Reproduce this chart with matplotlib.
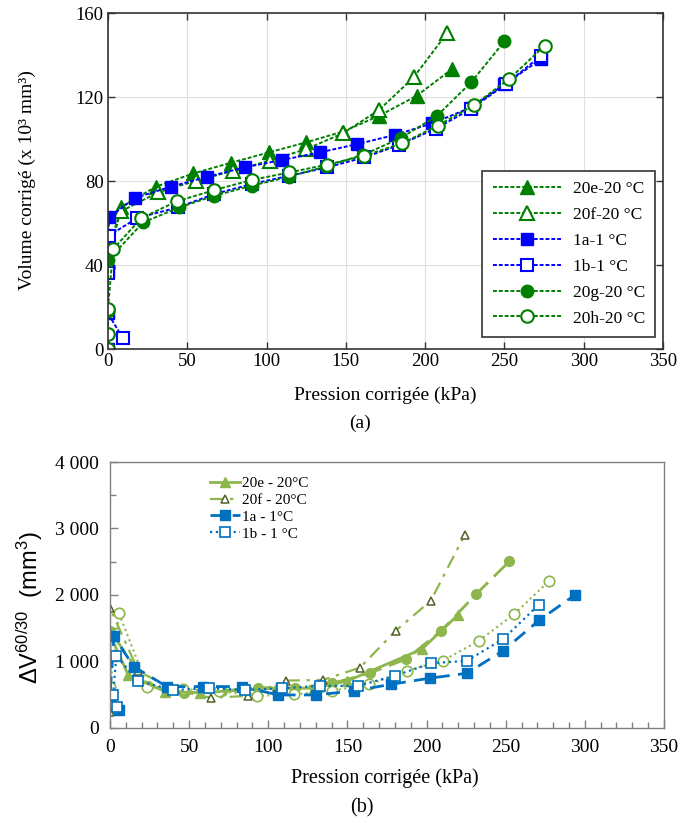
import numpy as np
import matplotlib
matplotlib.use('Agg')
import matplotlib.pyplot as plt
from matplotlib.ticker import MultipleLocator, FuncFormatter

plt.rcParams['font.family'] = ['Liberation Serif', 'DejaVu Serif']
plt.rcParams['mathtext.fontset'] = 'custom'
plt.rcParams['mathtext.rm'] = 'Liberation Sans'
plt.rcParams['mathtext.it'] = 'Liberation Sans:italic'

# ---- (a) corrected volume (x 10^3 mm3) vs corrected pressure (kPa)
a_labels = ['20e-20 °C', '20f-20 °C', '1a-1 °C', '1b-1 °C', '20g-20 °C', '20h-20 °C']
a_20e_x = [0, 0, 8.5, 30.2, 53.8, 77.5, 101.3, 124.9, 148, 170.9, 194.7, 216.9]
a_20e_y = [0, 42, 67.8, 77.3, 83.6, 88.7, 93.6, 98.4, 103.5, 111, 120.6, 133.3]
a_20f_x = [0, 0, 8, 31.6, 55.3, 79.1, 101.9, 124.9, 148.1, 170.9, 192.7, 213.7]
a_20f_y = [0, 48, 65.5, 74.6, 80.1, 84.9, 89.7, 95.2, 102.7, 113.8, 129.3, 150.3]
a_1a_x = [0, 0, 0, 0.6, 16.9, 39.5, 62.7, 86.1, 109.7, 133.4, 157.2, 180.8, 204.2, 229, 250, 273.2]
a_1a_y = [0, 17, 37, 62.7, 71.9, 77.3, 82, 86.5, 90, 93.6, 97.6, 101.9, 107.4, 115, 126, 138.1]
a_1b_x = [9.2, 0, 0, 0.6, 18.4, 43.9, 67.1, 90.7, 114.4, 138.2, 161.4, 183.5, 206.8, 229, 251, 273]
a_1b_y = [5.3, 17, 36, 54, 62.4, 67.4, 73.8, 78.6, 82.5, 86.5, 91.2, 97.1, 105, 114.3, 126.2, 139.6]
a_20g_x = [0, 0, 0, 0, 22.2, 44.7, 67.1, 90.8, 113.9, 137.6, 161, 184.6, 207.4, 229, 250]
a_20g_y = [0, 7, 18, 42.4, 60.3, 67.4, 73, 77.8, 82, 87, 92.5, 100.5, 111, 127, 146.5]
a_20h_x = [0, 0, 0, 3.2, 21.1, 43.3, 67.1, 90.8, 114.4, 138.2, 161.4, 185.3, 207.8, 231, 253, 275.3]
a_20h_y = [0, 7, 19.3, 47.6, 62.4, 70.3, 75.7, 80.5, 84.1, 87.8, 92, 97.9, 106.3, 116.3, 128.6, 144.4]

# ---- (b) Delta V 60/30 (mm3) vs corrected pressure (kPa)
b_labels = ['20e - 20°C', '20f - 20°C', '1a - 1°C', '1b - 1 °C']
b_20e_x = [0, 0, 11.5, 35, 57, 105, 129, 150, 197, 220]
b_20e_y = [500, 1400, 793, 541, 526, 592, 592, 702, 1180, 1699]
b_20f_x = [0, 0, 18, 41, 63.6, 87, 111, 134.5, 158, 180.5, 202.7, 224.2]
b_20f_y = [230, 1800, 850, 560, 450, 476, 707, 717, 903, 1458, 1911, 2908]
b_1a_x = [5.5, 0, 2.5, 15, 35.9, 59, 83.2, 106.3, 130, 154, 177.8, 202, 225.5, 248.3, 271, 294]
b_1a_y = [264, 480, 1372, 918, 617, 617, 617, 491, 491, 551, 652, 743, 818, 1156, 1614, 2002]
b_1b_x = [4.6, 2, 4, 17.8, 39.7, 62.3, 85.3, 108.8, 132.6, 156.4, 179.9, 203, 225.5, 248.3, 270.9]
b_1b_y = [315, 491, 1080, 702, 566, 592, 566, 592, 627, 627, 778, 969, 1005, 1332, 1850]
b_20g_x = [0, 0, 24.3, 46.8, 70.6, 93.7, 117, 140.4, 164.1, 187.3, 209.3, 231.4, 252.4]
b_20g_y = [300, 1458, 627, 516, 551, 602, 590, 667, 818, 1035, 1458, 2012, 2505]
b_20h_x = [0, 0, 5.7, 23.7, 46, 69.1, 92.7, 116.4, 140, 163.7, 187.9, 210.4, 233, 255.5, 277.6]
b_20h_y = [400, 616, 1720, 616, 577, 551, 476, 501, 551, 652, 858, 1009, 1307, 1710, 2213]

GREEN = '#008000'
BLUE = '#0000FF'
LGREEN = '#8DB64C'
DBLUE = '#0070C0'
OLIVE = '#4F6228'

fig = plt.figure(figsize=(6.96, 8.23), dpi=100)

# ================= panel (a)
ax = fig.add_axes([0.1552, 0.5759, 0.7974, 0.4083])
dots = (0, (2, 1))
ax.plot(a_20e_x, a_20e_y, linestyle=dots, color=GREEN, lw=1.4, marker='^', ms=10,
        mfc=GREEN, mec=GREEN, label=a_labels[0])
ax.plot(a_20f_x, a_20f_y, linestyle=dots, color=GREEN, lw=1.4, marker='^', ms=10,
        mfc='white', mec=GREEN, mew=1.5, label=a_labels[1])
ax.plot(a_1a_x, a_1a_y, linestyle=dots, color=BLUE, lw=1.4, marker='s', ms=8,
        mfc=BLUE, mec=BLUE, label=a_labels[2])
ax.plot(a_1b_x, a_1b_y, linestyle=dots, color=BLUE, lw=1.4, marker='s', ms=8,
        mfc='white', mec=BLUE, mew=1.5, label=a_labels[3])
ax.plot(a_20g_x, a_20g_y, linestyle=dots, color=GREEN, lw=1.4, marker='o', ms=9,
        mfc=GREEN, mec=GREEN, label=a_labels[4])
ax.plot(a_20h_x, a_20h_y, linestyle=dots, color=GREEN, lw=1.4, marker='o', ms=9,
        mfc='white', mec=GREEN, mew=1.5, label=a_labels[5])

ax.set_xlim(0, 350)
ax.set_ylim(0, 160)
ax.xaxis.set_major_locator(MultipleLocator(50))
ax.yaxis.set_major_locator(MultipleLocator(40))
ax.grid(True, color='#e0e0e0', lw=0.8)
ax.set_axisbelow(True)
ax.tick_params(direction='in', top=True, right=True, length=5, width=1,
               color='#333333', labelsize=13.5, pad=3)
for s in ax.spines.values():
    s.set_color('#333333')
    s.set_linewidth(1.2)
for t in ax.get_xticklabels() + ax.get_yticklabels():
    t.set_clip_on(False)

leg = ax.legend(loc='lower right', bbox_to_anchor=(0.986, 0.036), fontsize=12.5,
                handlelength=4.0, handletextpad=0.6, labelspacing=0.56,
                borderpad=0.6, borderaxespad=0, fancybox=False, edgecolor='#333333',
                framealpha=1)
leg.get_frame().set_linewidth(1.2)

fig.text(385 / 696, 1 - 395 / 823, 'Pression corrigée (kPa)', ha='center', va='center', fontsize=14)
fig.text(360 / 696, 1 - 423 / 823, '(a)', ha='center', va='center', fontsize=14)
fig.text(27 / 696, 1 - 180 / 823, 'Volume corrigé (x 10³ mm³)', ha='center', va='center',
         rotation=90, fontsize=14)

# ================= panel (b)
bx = fig.add_axes([0.158, 0.116, 0.796, 0.3226])
bx.plot(b_20g_x, b_20g_y, linestyle=(0, (7, 3)), color=LGREEN, lw=2, marker='o', ms=7,
        mfc=LGREEN, mec=LGREEN)
bx.plot(b_20h_x, b_20h_y, linestyle=':', color=LGREEN, lw=1.5, marker='o', ms=7.5,
        mfc='white', mec=LGREEN, mew=1.2)
bx.plot(b_20e_x, b_20e_y, linestyle='-', color=LGREEN, lw=2, marker='^', ms=7,
        mfc=LGREEN, mec=LGREEN, label=b_labels[0])
bx.plot(b_20f_x, b_20f_y, linestyle=(0, (6, 3, 1.5, 3)), color=LGREEN, lw=1.6, marker='^',
        ms=6, mfc='white', mec=OLIVE, mew=1.1, label=b_labels[1])
bx.plot(b_1a_x, b_1a_y, linestyle=(0, (5, 3)), color=DBLUE, lw=2, marker='s', ms=7,
        mfc=DBLUE, mec=DBLUE, label=b_labels[2])
bx.plot(b_1b_x, b_1b_y, linestyle=':', color=DBLUE, lw=1.6, marker='s', ms=7.5,
        mfc='white', mec=DBLUE, mew=1.2, label=b_labels[3])

bx.set_xlim(0, 350)
bx.set_ylim(0, 4000)
bx.xaxis.set_major_locator(MultipleLocator(50))
bx.xaxis.set_minor_locator(MultipleLocator(10))
bx.yaxis.set_major_locator(MultipleLocator(1000))
bx.yaxis.set_minor_locator(MultipleLocator(500))
bx.yaxis.set_major_formatter(FuncFormatter(lambda v, p: f'{int(v):,}'.replace(',', ' ')))
bx.tick_params(which='major', direction='in', length=6, width=1, color='#808080',
               labelsize=14, pad=8)
bx.tick_params(which='minor', direction='in', length=4, width=1, color='#808080')
for s in bx.spines.values():
    s.set_color('#808080')
    s.set_linewidth(1.0)

bleg = bx.legend(loc='upper left', bbox_to_anchor=(0.18, 0.945), fontsize=11,
                 frameon=False, handlelength=2.0, handletextpad=0.1, labelspacing=0.2,
                 borderpad=0, borderaxespad=0)

fig.text(385 / 696, 1 - 778 / 823, 'Pression corrigée (kPa)', ha='center', va='center', fontsize=14.5)
fig.text(362 / 696, 1 - 808 / 823, '(b)', ha='center', va='center', fontsize=14.5)
fig.text(30 / 696, 1 - 608 / 823, 'ΔV$^{60/30}$  (mm$^3$)', ha='center', va='center',
         rotation=90, fontsize=17, family=['Liberation Sans', 'DejaVu Sans'])

fig.savefig('out.png', dpi=100)
